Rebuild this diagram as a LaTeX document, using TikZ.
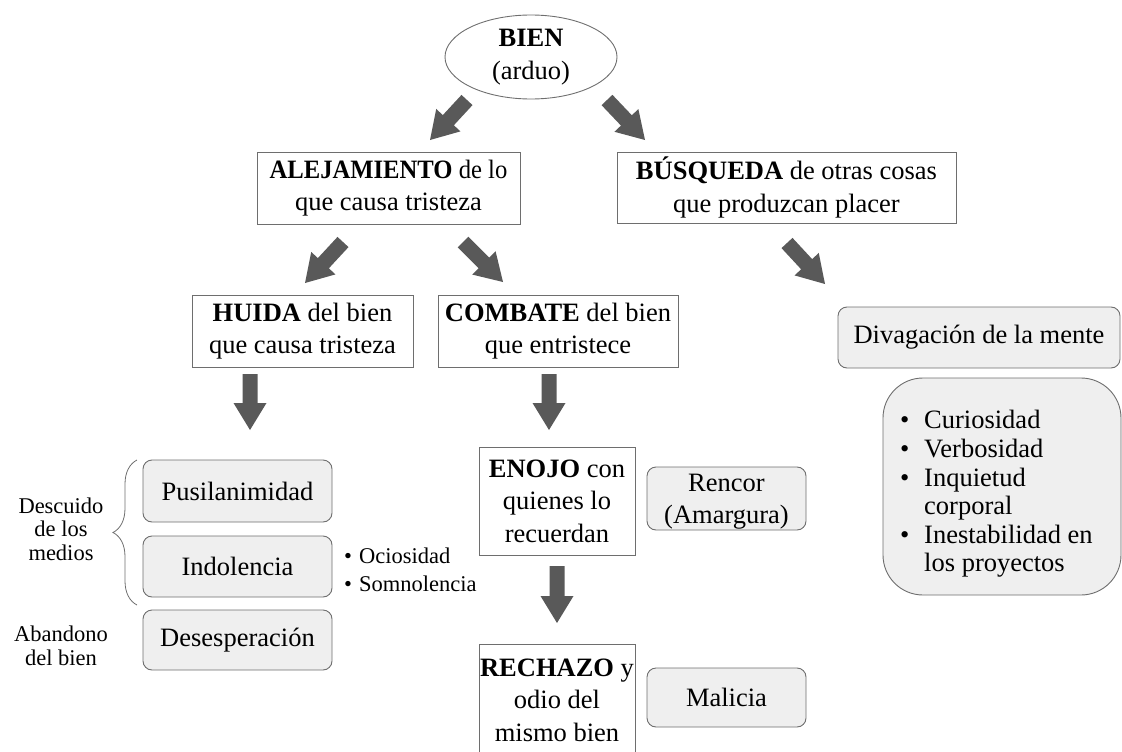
\documentclass[tikz,border=0pt]{standalone}
\usepackage{fontspec}
\setmainfont{Liberation Serif}
\usetikzlibrary{shapes.geometric,calc,decorations.pathreplacing}
\definecolor{arrowgray}{HTML}{595959}
\definecolor{lineg}{HTML}{6E6E6E}
\definecolor{boxfill}{HTML}{EFEFEF}
\newcommand\blockarr[2]{%
  \coordinate (hb) at ($(#2)!27pt!(#1)$);
  \fill[arrowgray] ($(#1)!7.5pt!90:(#2)$) -- ($(hb)!7.5pt!90:(#2)$) -- ($(hb)!16.5pt!90:(#2)$)
    -- (#2) -- ($(hb)!16.5pt!-90:(#2)$) -- ($(hb)!7.5pt!-90:(#2)$) -- ($(#1)!7.5pt!-90:(#2)$) -- cycle;}
\newcommand\bitem{\makebox[24pt][l]{•}}
\newcommand\bspace{\hspace*{24pt}}
\newcommand\sitem{\makebox[15pt][l]{•}}
\begin{document}
\begin{tikzpicture}[x=1pt,y=-1pt,
  font=\fontsize{26.5}{32.5}\selectfont,
  plainbox/.style={draw=lineg, line width=0.9pt, fill=white, align=center, inner sep=0pt},
  graybox/.style={draw=lineg, line width=0.9pt, fill=boxfill, rounded corners=9pt, align=center, inner sep=0pt},
  sidelabel/.style={align=center, font=\fontsize{22.5}{23.5}\selectfont, inner sep=0pt}]
\useasboundingbox (0,0) rectangle (1122,752);

% top
\node[draw=lineg, line width=0.9pt, ellipse, minimum width=172pt, minimum height=84pt, inner sep=0pt, align=center] (bien) at (531,57) {\textbf{BIEN}\\(arduo)};

\node[plainbox, minimum width=263pt, minimum height=72pt] (alej) at (388.5,188) {\scalebox{0.93}[1]{\textbf{ALEJAMIENTO} de lo}\\que causa tristeza};
\node[plainbox, minimum width=339pt, minimum height=71pt] (busq) at (786.5,187.5) {\textbf{BÚSQUEDA} de otras cosas\\que produzcan placer};

\node[plainbox, minimum width=221pt, minimum height=72pt] (huida) at (302.5,331) {\textbf{HUIDA} del bien\\que causa tristeza};
\node[plainbox, minimum width=240pt, minimum height=72pt] (comb) at (558,331) {\textbf{COMBATE} del bien\\que entristece};

\node[plainbox, minimum width=156pt, minimum height=108pt] (enojo) at (557,501) {\textbf{ENOJO} con\\quienes lo\\recuerdan};
\node[plainbox, minimum width=156pt, minimum height=112pt] (rech) at (557,700) {\textbf{RECHAZO} y\\odio del\\mismo bien};

\node[graybox, minimum width=159pt, minimum height=63pt] (rencor) at (726.5,498.5) {};
\node[align=center, inner sep=0pt] (rencortxt) at (726.5,501.5) {Rencor\\(Amargura)};
\node[graybox, minimum width=159pt, minimum height=59pt] (malicia) at (726.5,697.5) {Malicia};

\node[graybox, minimum width=189pt, minimum height=62pt] (pusi) at (237.5,491) {Pusilanimidad};
\node[graybox, minimum width=189pt, minimum height=61pt] (indo) at (237.5,566.5) {Indolencia};
\node[graybox, minimum width=189pt, minimum height=60pt] (dese) at (237.5,640) {Desesperación};

\node[graybox, minimum width=282pt, minimum height=61pt] (diva) at (979,337.5) {Divagación de la mente};
\node[graybox, rounded corners=40pt, minimum width=238pt, minimum height=217pt] (lista) at (1002,486.5) {};
\node[anchor=west, align=left, inner sep=0pt, font=\fontsize{26.5}{28.6}\selectfont] (listatxt) at (900,494)
  {\bitem Curiosidad\\\bitem Verbosidad\\\bitem Inquietud\\\bspace corporal\\\bitem Inestabilidad en\\\bspace los proyectos};

% side texts
\node[anchor=west, align=left, inner sep=0pt, font=\fontsize{22.5}{28}\selectfont] (ocio) at (344,570)
  {\sitem Ociosidad\\\sitem Somnolencia};
\node[sidelabel] (desc) at (61,529) {Descuido\\de los\\medios};
\node[sidelabel] (aband) at (61,646) {Abandono\\del bien};
\draw[lineg, line width=0.8pt, decorate, decoration={brace, amplitude=24pt}] (137,605) -- (137,460);

% arrows
\coordinate (a1s) at (467,100); \coordinate (a1e) at (430,140);
\coordinate (a2s) at (607,100); \coordinate (a2e) at (645,140);
\coordinate (a3s) at (343,242); \coordinate (a3e) at (305,283);
\coordinate (a4s) at (463,242); \coordinate (a4e) at (503,282);
\coordinate (a5s) at (787,243); \coordinate (a5e) at (825,284);
\coordinate (a6s) at (250,374); \coordinate (a6e) at (250,430);
\coordinate (a7s) at (549,374); \coordinate (a7e) at (549,430);
\coordinate (a8s) at (557,566); \coordinate (a8e) at (557,623);
\blockarr{a1s}{a1e}
\blockarr{a2s}{a2e}
\blockarr{a3s}{a3e}
\blockarr{a4s}{a4e}
\blockarr{a5s}{a5e}
\blockarr{a6s}{a6e}
\blockarr{a7s}{a7e}
\blockarr{a8s}{a8e}
\end{tikzpicture}
\end{document}
